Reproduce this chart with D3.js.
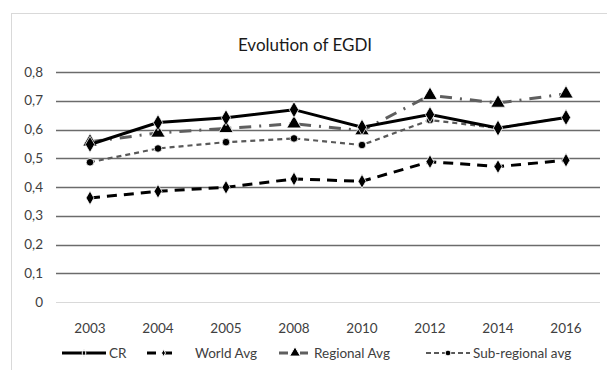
<!DOCTYPE html>
<html>
<head>
<meta charset="utf-8">
<script src="https://cdn.jsdelivr.net/npm/d3@7"></script>
<style>
  body { margin: 0; background: #fff; }
  text { font-family: Lato, "Open Sans", sans-serif; }
</style>
</head>
<body>
<div id="chart"></div>
<script>
  const years = ["2003", "2004", "2005", "2008", "2010", "2012", "2014", "2016"];
  const cr = [0.548, 0.624, 0.641, 0.669, 0.608, 0.652, 0.605, 0.642];
  const worldAvg = [0.362, 0.385, 0.399, 0.428, 0.420, 0.488, 0.471, 0.493];
  const regionalAvg = [0.557, 0.588, 0.604, 0.620, 0.596, 0.719, 0.692, 0.724];
  const subRegionalAvg = [0.486, 0.534, 0.556, 0.569, 0.546, 0.633, 0.605, 0.642];
  const yTicks = [0, 0.1, 0.2, 0.3, 0.4, 0.5, 0.6, 0.7, 0.8];

  const width = 607;
  const height = 370;
  const margin = { top: 72, right: 7, bottom: 68, left: 56 };

  const svg = d3.select("#chart")
    .append("svg")
    .attr("width", width)
    .attr("height", height);

  // chart frame
  svg.append("rect")
    .attr("x", 11.5)
    .attr("y", 13.5)
    .attr("width", 620)
    .attr("height", 400)
    .attr("fill", "none")
    .attr("stroke", "#d9d9d9")
    .attr("stroke-width", 1);

  svg.append("text")
    .attr("x", 305)
    .attr("y", 51)
    .attr("text-anchor", "middle")
    .attr("font-size", 17)
    .attr("fill", "#1a1a1a")
    .text("Evolution of EGDI");

  const x = d3.scaleBand()
    .domain(years)
    .range([margin.left, width - margin.right]);

  const y = d3.scaleLinear()
    .domain([0, 0.8])
    .range([height - margin.bottom, margin.top]);

  const fmt = d => d === 0 ? "0" : d3.format(".1f")(d).replace(".", ",");

  // gridlines
  svg.append("g")
    .selectAll("line")
    .data(yTicks)
    .join("line")
    .attr("x1", margin.left)
    .attr("x2", width - margin.right)
    .attr("y1", d => Math.round(y(d)) + 0.5)
    .attr("y2", d => Math.round(y(d)) + 0.5)
    .attr("stroke", d => d === 0 ? "#d9d9d9" : "#6b6b6b")
    .attr("stroke-width", d => d === 0 ? 1 : 1.5);

  svg.append("g")
    .selectAll("text")
    .data(yTicks)
    .join("text")
    .attr("x", 43)
    .attr("y", d => y(d))
    .attr("dy", "0.35em")
    .attr("text-anchor", "end")
    .attr("font-size", 13.5)
    .attr("fill", "#404040")
    .text(fmt);

  svg.append("g")
    .selectAll("text")
    .data(years)
    .join("text")
    .attr("x", d => x(d) + x.bandwidth() / 2)
    .attr("y", 328)
    .attr("dy", "0.35em")
    .attr("text-anchor", "middle")
    .attr("font-size", 13.5)
    .attr("fill", "#404040")
    .text(d => d);

  const series = [
    { name: "CR", values: cr, color: "#000", width: 3, dash: null, marker: "diamond", size: 75 },
    { name: "World Avg", values: worldAvg, color: "#000", width: 3, dash: "10,7", marker: "diamond", size: 55 },
    { name: "Regional Avg", values: regionalAvg, color: "#5f5f5f", width: 3, dash: "12,8,2,8", marker: "triangle", size: 90 },
    { name: "Sub-regional avg", values: subRegionalAvg, color: "#595959", width: 2.2, dash: "5,4", marker: "circle", size: 45 }
  ];

  const symbolType = { diamond: d3.symbolDiamond, triangle: d3.symbolTriangle, circle: d3.symbolCircle };

  const line = d3.line()
    .x((d, i) => x(years[i]) + x.bandwidth() / 2)
    .y(d => y(d));

  const drawOrder = [series[1], series[3], series[2], series[0]];

  drawOrder.forEach(s => {
    svg.append("path")
      .datum(s.values)
      .attr("fill", "none")
      .attr("stroke", s.color)
      .attr("stroke-width", s.width)
      .attr("stroke-dasharray", s.dash)
      .attr("d", line);

    svg.append("g")
      .selectAll("path")
      .data(s.values)
      .join("path")
      .attr("transform", (d, i) => `translate(${x(years[i]) + x.bandwidth() / 2},${y(d)})`)
      .attr("d", d3.symbol().type(symbolType[s.marker]).size(s.size))
      .attr("fill", "#000")
      .attr("stroke", "#fff")
      .attr("stroke-width", 0.8);
  });

  // legend
  const legendY = 353;
  const legendItems = [
    { s: series[0], x0: 62, x1: 106, tx: 109, msize: 14, dash: null },
    { s: series[1], x0: 147, x1: 180, tx: 195, msize: 14, dash: "9,8,8" },
    { s: series[2], x0: 279, x1: 311, tx: 314, msize: 50, dash: "9,12,8" },
    { s: series[3], x0: 426, x1: 470, tx: 473, msize: 26, dash: "5,3" }
  ];

  const legend = svg.append("g");
  legendItems.forEach(it => {
    const g = legend.append("g");
    g.append("line")
      .attr("x1", it.x0)
      .attr("x2", it.x1)
      .attr("y1", legendY)
      .attr("y2", legendY)
      .attr("stroke", it.s.color)
      .attr("stroke-width", it.s.width)
      .attr("stroke-dasharray", it.dash);
    g.append("path")
      .attr("transform", `translate(${(it.x0 + it.x1) / 2},${legendY})`)
      .attr("d", d3.symbol().type(symbolType[it.s.marker]).size(it.msize))
      .attr("fill", "#000")
      .attr("stroke", "#fff")
      .attr("stroke-width", 1);
    g.append("text")
      .attr("x", it.tx)
      .attr("y", legendY)
      .attr("dy", "0.35em")
      .attr("font-size", 13.5)
      .attr("fill", "#404040")
      .text(it.s.name);
  });
</script>
</body>
</html>
